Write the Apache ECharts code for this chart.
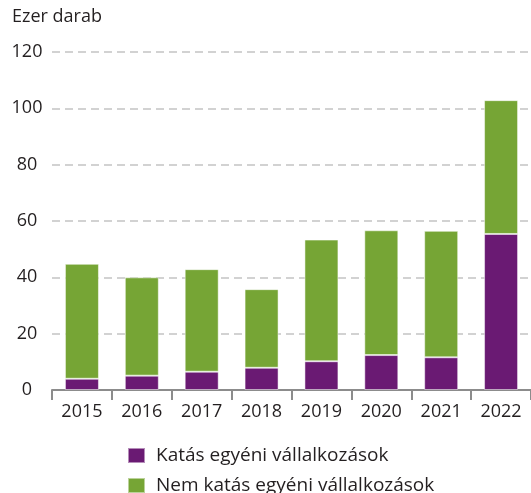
<!DOCTYPE html>
<html lang="hu">
<head>
<meta charset="UTF-8">
<title>Egyéni vállalkozások</title>
<script src="https://cdn.jsdelivr.net/npm/echarts@6/dist/echarts.min.js"></script>
<style>
  html, body { margin: 0; padding: 0; background: #fff; }
  #main { width: 531px; height: 493px; }
</style>
</head>
<body>
<div id="main"></div>
<script>
// adatok (ezer darab)
var years = ['2015', '2016', '2017', '2018', '2019', '2020', '2021', '2022'];
var katas = [4.0, 5.1, 6.5, 7.9, 10.2, 12.4, 11.6, 55.4];
var nemKatas = [40.8, 34.9, 36.4, 27.9, 43.2, 44.3, 44.9, 47.5];
var seriesNames = ['Katás egyéni vállalkozások', 'Nem katás egyéni vállalkozások'];
var unitLabel = 'Ezer darab';

var font = 'Open Sans';
var purple = '#6a1a73';
var green = '#76a535';

var myChart = echarts.init(document.getElementById('main'));

// egy jelmagyarázat soronként, egymás alatt
function legendRow(name, top) {
  return {
    orient: 'vertical',
    left: 127,
    top: top,
    padding: 0,
    itemWidth: 17,
    itemHeight: 15,
    icon: 'rect',
    data: [name],
    selectedMode: false,
    textStyle: { fontSize: 19, color: '#231f20', padding: [0, 0, 0, 6] }
  };
}

var option = {
  animation: false,
  textStyle: { fontFamily: font },
  graphic: [{
    type: 'text',
    left: 12,
    top: 8,
    style: { text: unitLabel, font: '18px "' + font + '"', fill: '#231f20' }
  }],
  legend: [legendRow(seriesNames[0], 446), legendRow(seriesNames[1], 476)],
  grid: { left: 52, right: 0, top: 52, bottom: 103 },
  xAxis: {
    type: 'category',
    data: years,
    axisLine: { lineStyle: { color: '#8c8c8c', width: 2 } },
    axisTick: { show: true, length: 10, lineStyle: { color: '#8c8c8c', width: 2 } },
    axisLabel: { fontSize: 18, color: '#231f20', margin: 13 }
  },
  yAxis: {
    type: 'value',
    min: 0,
    max: 120,
    interval: 20,
    axisLine: { show: false },
    axisTick: { show: false },
    axisLabel: { fontSize: 18, color: '#231f20', align: 'center', margin: 25 },
    splitLine: { lineStyle: { color: '#c4c4c4', type: [8, 5], width: 1.5 } }
  },
  series: [
    {
      name: seriesNames[0],
      type: 'bar',
      stack: 'total',
      barWidth: 34,
      data: katas,
      itemStyle: { color: purple, borderColor: 'rgba(255,255,255,0.5)', borderWidth: 1 }
    },
    {
      name: seriesNames[1],
      type: 'bar',
      stack: 'total',
      barWidth: 34,
      data: nemKatas,
      itemStyle: { color: green, borderColor: 'rgba(255,255,255,0.5)', borderWidth: 1 }
    }
  ]
};
myChart.setOption(option);
</script>
</body>
</html>
